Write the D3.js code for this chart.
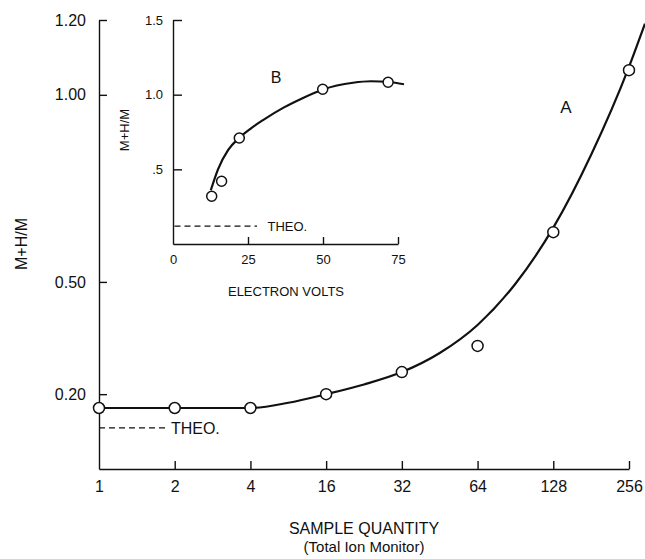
<!DOCTYPE html>
<html>
<head>
<meta charset="utf-8">
<script src="https://cdn.jsdelivr.net/npm/d3@7"></script>
<style>
  body { margin: 0; background: #fff; }
  text { font-family: "Liberation Sans", Arial, sans-serif; fill: #111; }
</style>
</head>
<body>
<div id="viz"></div>
<script>
const width = 645;
const height = 559;
const ink = '#111';

// Main chart (A): sample quantity vs M+H/M
const sampleLabels = ['1', '2', '4', '16', '32', '64', '128', '256'];
const sampleRatio = [0.163, 0.163, 0.163, 0.200, 0.259, 0.329, 0.633, 1.066];
// smooth fitted curve (x = category index)
const curveAPos = [0, 1, 2, 2.5, 3, 3.5, 4, 4.5, 5, 5.5, 6, 6.5, 7, 7.21];
const curveAVal = [0.163, 0.163, 0.163, 0.177, 0.200, 0.226, 0.259, 0.31, 0.385, 0.495, 0.645, 0.84, 1.075, 1.19];
const mainYTicks = [0.20, 0.50, 1.00, 1.20];
const theoA = 0.11;

// Inset (B): electron volts vs M+H/M
const eVolts = [12.9, 16.2, 22.1, 49.9, 71.7];
const eRatio = [0.32, 0.42, 0.71, 1.036, 1.083];
const curveBeV = [12.6, 15, 18.4, 22, 26, 30, 37, 43, 50, 60, 66, 72, 77];
const curveBVal = [0.36, 0.50, 0.63, 0.71, 0.775, 0.83, 0.915, 0.975, 1.035, 1.08, 1.09, 1.085, 1.07];
const insetYTicks = [0.5, 1.0, 1.5];
const insetYLabels = ['.5', '1.0', '1.5'];
const insetXTicks = [0, 25, 50, 75];
const theoB = 0.12;

const svg = d3.select('#viz')
  .append('svg')
  .attr('width', width)
  .attr('height', height);

// ---------- main chart ----------
const x = d3.scaleLinear().domain([0, 7]).range([99, 629]);
const y = d3.scaleLinear().domain([0, 1.2]).range([469, 20]);

const styleAxis = g => {
  g.select('.domain').attr('stroke', ink).attr('stroke-width', 1.4);
  g.selectAll('.tick line').attr('stroke', ink).attr('stroke-width', 1.4);
};

svg.append('g')
  .attr('transform', 'translate(99,0)')
  .call(d3.axisLeft(y)
    .tickValues(mainYTicks)
    .tickFormat(d3.format('.2f'))
    .tickSizeInner(-8)
    .tickSizeOuter(0)
    .tickPadding(13))
  .call(styleAxis)
  .selectAll('text')
    .style('font-size', '16px')
    .attr('fill', ink);

svg.append('g')
  .attr('transform', 'translate(0,469)')
  .call(d3.axisBottom(x)
    .tickValues(d3.range(sampleLabels.length))
    .tickFormat(i => sampleLabels[i])
    .tickSizeInner(-8)
    .tickSizeOuter(0)
    .tickPadding(12))
  .call(styleAxis)
  .call(g => g.selectAll('.tick').filter(d => d === 0).select('line').remove())
  .selectAll('text')
    .style('font-size', '16px')
    .attr('fill', ink);

// theoretical line A
svg.append('line')
  .attr('x1', x(0)).attr('x2', x(0.9))
  .attr('y1', y(theoA)).attr('y2', y(theoA))
  .attr('stroke', ink).attr('stroke-width', 1.2)
  .attr('stroke-dasharray', '6,4');
svg.append('text')
  .attr('x', x(0.95)).attr('y', y(theoA) + 6)
  .style('font-size', '16px')
  .text('THEO.');

const lineA = d3.line()
  .x(d => x(d[0]))
  .y(d => y(d[1]))
  .curve(d3.curveMonotoneX);

svg.append('path')
  .attr('d', lineA(d3.zip(curveAPos, curveAVal)))
  .attr('fill', 'none')
  .attr('stroke', ink)
  .attr('stroke-width', 2.2);

svg.append('g')
  .selectAll('circle')
  .data(sampleRatio)
  .join('circle')
    .attr('cx', (d, i) => x(i))
    .attr('cy', d => y(d))
    .attr('r', 5.5)
    .attr('fill', '#fff')
    .attr('stroke', ink)
    .attr('stroke-width', 1.5);

svg.append('text')
  .attr('x', 566).attr('y', 113)
  .attr('text-anchor', 'middle')
  .style('font-size', '17px')
  .text('A');

svg.append('text')
  .attr('transform', 'translate(27,244) rotate(-90)')
  .attr('text-anchor', 'middle')
  .style('font-size', '16px')
  .text('M+H/M');

svg.append('text')
  .attr('x', 364).attr('y', 534)
  .attr('text-anchor', 'middle')
  .style('font-size', '16px')
  .text('SAMPLE QUANTITY');
svg.append('text')
  .attr('x', 364).attr('y', 552)
  .attr('text-anchor', 'middle')
  .style('font-size', '15px')
  .text('(Total Ion Monitor)');

// ---------- inset chart ----------
const xb = d3.scaleLinear().domain([0, 75]).range([173, 398]);
const yb = d3.scaleLinear().domain([0, 1.5]).range([244, 20]);

svg.append('g')
  .attr('transform', 'translate(173,0)')
  .call(d3.axisLeft(yb)
    .tickValues(insetYTicks)
    .tickFormat((d, i) => insetYLabels[i])
    .tickSizeInner(-9)
    .tickSizeOuter(0)
    .tickPadding(10))
  .call(styleAxis)
  .selectAll('text')
    .style('font-size', '13px')
    .attr('fill', ink);

svg.append('g')
  .attr('transform', 'translate(0,244)')
  .call(d3.axisBottom(xb)
    .tickValues(insetXTicks)
    .tickSizeInner(-7)
    .tickSizeOuter(0)
    .tickPadding(11))
  .call(styleAxis)
  .call(g => g.selectAll('.tick').filter(d => d === 0).select('line').remove())
  .selectAll('text')
    .style('font-size', '13px')
    .attr('fill', ink);

svg.append('line')
  .attr('x1', xb(0.5)).attr('x2', xb(28))
  .attr('y1', yb(theoB)).attr('y2', yb(theoB))
  .attr('stroke', ink).attr('stroke-width', 1.2)
  .attr('stroke-dasharray', '6,4');
svg.append('text')
  .attr('x', xb(31.5)).attr('y', yb(theoB) + 5)
  .style('font-size', '13px')
  .text('THEO.');

const lineB = d3.line()
  .x(d => xb(d[0]))
  .y(d => yb(d[1]))
  .curve(d3.curveMonotoneX);

svg.append('path')
  .attr('d', lineB(d3.zip(curveBeV, curveBVal)))
  .attr('fill', 'none')
  .attr('stroke', ink)
  .attr('stroke-width', 2.2);

svg.append('g')
  .selectAll('circle')
  .data(d3.zip(eVolts, eRatio))
  .join('circle')
    .attr('cx', d => xb(d[0]))
    .attr('cy', d => yb(d[1]))
    .attr('r', 5)
    .attr('fill', '#fff')
    .attr('stroke', ink)
    .attr('stroke-width', 1.5);

svg.append('text')
  .attr('x', 276).attr('y', 83)
  .attr('text-anchor', 'middle')
  .style('font-size', '16px')
  .text('B');

svg.append('text')
  .attr('transform', 'translate(129,130) rotate(-90)')
  .attr('text-anchor', 'middle')
  .style('font-size', '13px')
  .text('M+H/M');

svg.append('text')
  .attr('x', 286).attr('y', 296)
  .attr('text-anchor', 'middle')
  .style('font-size', '13px')
  .text('ELECTRON VOLTS');
</script>
</body>
</html>
